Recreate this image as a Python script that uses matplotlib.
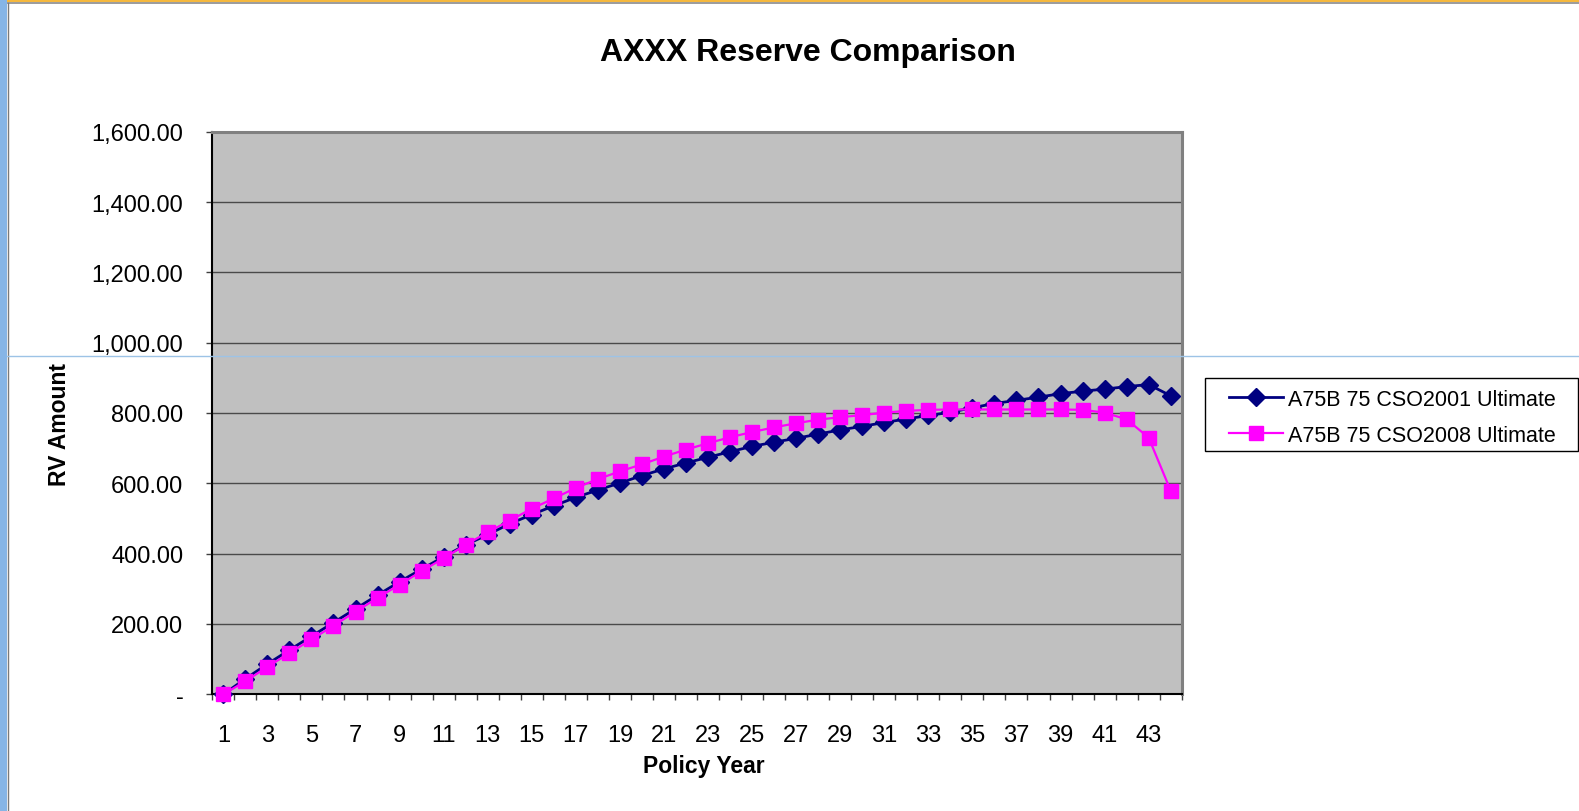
import matplotlib
matplotlib.use("Agg")
import matplotlib.pyplot as plt
from matplotlib.lines import Line2D
from matplotlib.patches import Rectangle
from matplotlib.ticker import FuncFormatter, FixedLocator

plt.rcParams['font.family'] = ['Liberation Sans', 'DejaVu Sans']

# Reserve values by policy year
policy_years = list(range(1, 45))
cso2001 = [0, 44, 86, 126, 165, 204, 243, 282, 320, 356, 391, 425, 454, 485, 511,
           536, 560, 581, 601, 622, 641, 658, 674, 690, 705, 717, 728, 740, 752, 762,
           773, 783, 793, 802, 815, 827, 836, 845, 855, 862, 868, 875, 881, 849]
cso2008 = [0, 37, 78, 117, 156, 195, 235, 274, 312, 350, 387, 425, 461, 494, 528,
           557, 587, 612, 634, 654, 676, 696, 714, 731, 746, 759, 771, 781, 788, 794,
           801, 806, 809, 810, 810, 810, 810, 810, 810, 809, 801, 782, 730, 579]
series_names = ["A75B 75 CSO2001 Ultimate", "A75B 75 CSO2008 Ultimate"]
title = "AXXX Reserve Comparison"
x_title = "Policy Year"
y_title = "RV Amount"
y_ticks = [0, 200, 400, 600, 800, 1000, 1200, 1400, 1600]

W, H = 1579, 812
fig = plt.figure(figsize=(W / 100, H / 100), dpi=100)
fig.patch.set_facecolor('white')

def fx(px):
    return px / W

def fy(py):
    return 1 - py / H

ax = fig.add_axes([fx(212.3), fy(695.3), fx(1181.7) - fx(212.3), fy(132.7) - fy(695.3)])
ax.set_facecolor('#C0C0C0')

styles = [
    dict(color='#000080', lw=2.0, marker='D', markersize=9.5, zorder=3),
    dict(color='#FF00FF', lw=1.6, marker='s', markersize=10.5, zorder=4),
]

pos = list(range(len(policy_years)))
for vals, name, st in zip([cso2001, cso2008], series_names, styles):
    ax.plot(pos, vals, color=st['color'], lw=st['lw'], marker=st['marker'],
            markersize=st['markersize'], markeredgecolor=st['color'],
            markerfacecolor=st['color'], label=name, zorder=st['zorder'], clip_on=False)

ax.set_xlim(-0.5, len(pos) - 0.5)
ax.set_ylim(0, 1600)

# y axis
ax.set_yticks(y_ticks)
ax.yaxis.set_major_formatter(FuncFormatter(lambda v, p: '-' if v == 0 else f"{v:,.2f}"))
ax.tick_params(axis='y', direction='out', length=4.3, width=1, color='#404040',
               labelsize=17, pad=16.5)
ax.grid(axis='y', color='#4a4a4a', lw=1.0)
ax.set_axisbelow(True)

# x axis: tick marks on category boundaries, labels on every other category
ax.xaxis.set_major_locator(FixedLocator([p - 0.5 for p in pos] + [len(pos) - 0.5]))
ax.xaxis.set_major_formatter(FuncFormatter(lambda v, p: ''))
ax.xaxis.set_minor_locator(FixedLocator(pos[::2]))
ax.set_xticklabels([str(y) for y in policy_years[::2]], minor=True)
ax.tick_params(axis='x', which='major', direction='out', length=4.3, width=1, color='#404040')
ax.tick_params(axis='x', which='minor', length=0, labelsize=17, pad=21.5)

for s in ('left', 'bottom'):
    ax.spines[s].set_color('black')
    ax.spines[s].set_linewidth(1.5)
for s in ('top', 'right'):
    ax.spines[s].set_color('#808080')
    ax.spines[s].set_linewidth(2.2)

fig.text(fx(808), fy(53), title, ha='center', va='center', fontsize=23, fontweight='bold')
fig.text(fx(704), fy(767), x_title, ha='center', va='center', fontsize=16.5, fontweight='bold')
fig.text(fx(60), fy(425), y_title, ha='center', va='center', fontsize=16.5, fontweight='bold',
         rotation=90)

# legend box, drawn in figure pixels
fig.add_artist(Rectangle((fx(1205.3), fy(451.7)), fx(1577.7) - fx(1205.3),
                         fy(379.3) - fy(451.7), transform=fig.transFigure,
                         facecolor='white', edgecolor='black', lw=1.0, zorder=5))
for i, (name, st) in enumerate(zip(series_names, styles)):
    yy = fy(397.7 + i * 36.3)
    fig.add_artist(Line2D([fx(1229), fx(1283)], [yy, yy], transform=fig.transFigure,
                          color=st['color'], lw=st['lw'], zorder=6))
    fig.add_artist(Line2D([fx(1256)], [yy], transform=fig.transFigure, color=st['color'],
                          marker=st['marker'], markersize=st['markersize'] * 0.95,
                          markeredgecolor=st['color'], markerfacecolor=st['color'],
                          lw=0, zorder=7))
    fig.text(fx(1287.5), yy, name, ha='left', va='center_baseline', fontsize=15.5, zorder=7)

# window frame around the chart sheet
fig.add_artist(Rectangle((0, fy(3)), 1, fy(0) - fy(3), transform=fig.transFigure,
                         facecolor='#F5B83D', edgecolor='none', zorder=10))
fig.add_artist(Line2D([0, 1], [fy(3.8), fy(3.8)], transform=fig.transFigure,
                      color='#8a8a8a', lw=1.2, zorder=10))
fig.add_artist(Rectangle((0, 0), fx(7), 1, transform=fig.transFigure,
                         facecolor='#86B5E6', edgecolor='none', zorder=10))
fig.add_artist(Line2D([fx(7.5), fx(7.5)], [0, fy(4)], transform=fig.transFigure,
                      color='#7a7a7a', lw=1, zorder=10))
fig.add_artist(Line2D([fx(7), 1], [fy(357.3), fy(357.3)], transform=fig.transFigure,
                      color='#9DC3E6', lw=1, zorder=10))

fig.savefig('out.png', dpi=100)
